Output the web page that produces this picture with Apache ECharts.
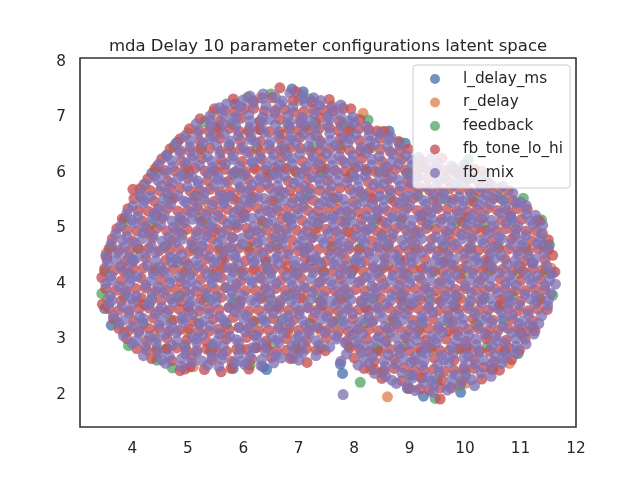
<!DOCTYPE html>
<html>
<head>
<meta charset="utf-8">
<title>mda Delay latent space</title>
<script src="https://cdn.jsdelivr.net/npm/echarts@6/dist/echarts.min.js"></script>
<style>
    html, body { margin: 0; padding: 0; background: #ffffff; }
    #chart { width: 640px; height: 480px; }
</style>
</head>
<body>
<div id="chart"></div>
<script>
const titleText = 'mda Delay 10 parameter configurations latent space';
const seriesNames = ['l_delay_ms', 'r_delay', 'feedback', 'fb_tone_lo_hi', 'fb_mix'];
const xTicks = [4, 5, 6, 7, 8, 9, 10, 11, 12];
const yTicks = [2, 3, 4, 5, 6, 7, 8];
const xRange = [3.056, 12];
const yRange = [1.415, 8.067];

const lDelayMs = [
    [4.81,6.55],[4.62,6.32],[4.35,5.99],[3.87,5.18],[5.85,7.24],[6.88,7.51],[7.08,7.46],[8.63,6.75],
    [8.92,6.53],[3.55,4.50],[5.82,2.47],[6.36,2.50],[6.42,2.45],[7.79,2.38],[7.75,2.55],[9.25,1.97],
    [9.92,2.04],[8.96,2.11],[11.41,4.69],[11.54,4.19],[11.30,5.14],[3.50,3.55],[3.62,3.25],
    [5.52,6.82],[6.31,6.78],[7.12,6.84],[7.93,6.80],
    [5.02,6.02],[5.81,5.97],[6.62,6.04],[7.41,5.99],[8.22,6.03],[9.01,5.98],[9.82,6.02],
    [4.42,5.22],[5.21,5.18],[6.02,5.24],[6.81,5.19],[7.62,5.21],[8.41,5.17],[9.22,5.23],[10.01,5.19],[10.82,5.22],
    [4.02,4.42],[4.81,4.38],[5.62,4.44],[6.41,4.39],[7.22,4.41],[8.01,4.37],[8.82,4.43],[9.61,4.39],[10.42,4.41],[11.21,4.38],
    [4.22,3.62],[5.01,3.58],[5.82,3.64],[6.61,3.59],[7.42,3.61],[8.21,3.57],[9.02,3.63],[9.81,3.59],[10.62,3.61],
    [4.62,2.82],[5.41,2.78],[6.22,2.84],[7.01,2.79],[8.42,2.81],[9.21,2.77],[10.02,2.83],[10.72,2.79]
];

// r_delay
const rDelay = [
    [5.46,7.09],[6.30,7.35],[7.00,7.30],[7.60,7.20],[8.16,7.07],
    [5.00,6.72],[5.50,6.68],[6.10,6.73],[6.70,6.69],[7.30,6.67],[7.90,6.71],[8.50,6.74],
    [4.45,6.12],[5.00,6.08],[5.60,6.13],[6.20,6.09],[6.80,6.07],[7.40,6.11],[8.00,6.14],[8.60,6.08],[9.20,6.12],[9.80,6.09],[10.30,6.03],
    [4.20,5.78],[4.70,5.52],[5.30,5.48],[5.90,5.53],[6.50,5.49],[7.10,5.47],[7.70,5.51],[8.30,5.54],[8.90,5.48],[9.50,5.52],[10.10,5.49],[10.70,5.53],
    [3.53,4.55],[4.30,4.92],[4.90,4.88],[5.50,4.93],[6.10,4.89],[6.70,4.87],[7.30,4.91],[7.90,4.94],[8.50,4.88],[9.10,4.92],[9.70,4.89],[10.30,4.93],[10.90,4.87],[11.40,4.90],
    [3.80,4.32],[4.40,4.28],[5.00,4.33],[5.60,4.29],[6.20,4.27],[6.80,4.31],[7.40,4.34],[8.00,4.28],[8.60,4.32],[9.20,4.29],[9.80,4.33],[10.40,4.27],[11.00,4.31],[11.55,4.28],
    [3.55,3.72],[4.10,3.68],[4.70,3.73],[5.30,3.69],[5.90,3.67],[6.50,3.71],[7.10,3.74],[7.70,3.68],[8.30,3.72],[8.90,3.69],[9.50,3.73],[10.10,3.67],[10.70,3.71],[11.30,3.68],
    [3.85,3.12],[4.40,3.08],[5.00,3.13],[5.60,3.09],[6.20,3.07],[6.80,3.11],[7.40,3.14],[8.00,3.08],[8.60,3.12],[9.20,3.09],[9.80,3.13],[10.40,3.07],[11.00,3.11],
    [5.10,2.50],[6.90,2.65],[8.30,2.45],[8.60,1.96],[9.20,2.30],[10.00,2.20],[10.80,2.56]
];

// feedback
const feedback = [
    [6.08,7.36],[6.50,7.42],[7.20,7.33],
    [5.30,6.92],[5.80,6.88],[6.30,6.93],[6.80,6.87],[7.30,6.91],[7.80,6.89],[8.25,6.95],
    [4.75,6.47],[5.25,6.43],[5.75,6.48],[6.25,6.44],[6.75,6.42],[7.25,6.46],[7.75,6.49],[8.25,6.43],[8.83,6.55],
    [4.45,6.02],[4.95,5.98],[5.45,6.03],[5.95,5.99],[6.45,5.97],[6.95,6.01],[7.45,6.04],[7.95,5.98],[8.45,6.02],[8.95,5.99],[9.45,6.03],[9.95,5.97],[10.06,6.23],
    [4.15,5.57],[4.65,5.53],[5.15,5.58],[5.65,5.54],[6.15,5.52],[6.65,5.56],[7.15,5.59],[7.65,5.53],[8.15,5.57],[8.65,5.54],[9.15,5.58],[9.65,5.52],[10.15,5.56],[10.65,5.53],[11.05,5.54],
    [3.85,5.12],[4.35,5.08],[4.85,5.13],[5.35,5.09],[5.85,5.07],[6.35,5.11],[6.85,5.14],[7.35,5.08],[7.85,5.12],[8.35,5.09],[8.85,5.13],[9.35,5.07],[9.85,5.11],[10.35,5.08],[10.85,5.13],[11.38,5.15],
    [3.62,4.67],[4.10,4.63],[4.60,4.68],[5.10,4.64],[5.60,4.62],[6.10,4.66],[6.60,4.69],[7.10,4.63],[7.60,4.67],[8.10,4.64],[8.60,4.68],[9.10,4.62],[9.60,4.66],[10.10,4.63],[10.60,4.68],[11.10,4.64],[11.52,4.70],
    [3.50,4.22],[3.95,4.18],[4.45,4.23],[4.95,4.19],[5.45,4.17],[5.95,4.21],[6.45,4.24],[6.95,4.18],[7.45,4.22],[7.95,4.19],[8.45,4.23],[8.95,4.17],[9.45,4.21],[9.95,4.18],[10.45,4.23],[10.95,4.19],[11.45,4.21],
    [3.45,3.82],[3.85,3.77],[4.35,3.73],[4.85,3.78],[5.35,3.74],[5.85,3.72],[6.35,3.76],[6.85,3.79],[7.35,3.73],[7.85,3.77],[8.35,3.74],[8.85,3.78],[9.35,3.72],[9.85,3.76],[10.35,3.73],[10.85,3.78],[11.35,3.74],[11.58,3.79],
    [3.70,3.32],[4.20,3.28],[4.70,3.33],[5.20,3.29],[5.70,3.27],[6.20,3.31],[6.70,3.34],[7.20,3.28],[7.70,3.32],[8.20,3.29],[8.70,3.33],[9.20,3.27],[9.70,3.31],[10.20,3.28],[10.70,3.33],[11.23,3.21],
    [3.93,2.88],[4.45,2.83],[4.95,2.88],[5.45,2.84],[5.95,2.82],[6.45,2.86],[6.95,2.89],[7.40,2.84],[7.90,2.87],[8.40,2.83],[8.90,2.88],[9.40,2.84],[9.90,2.82],[10.40,2.86],[10.96,2.74],
    [4.44,2.62],[4.72,2.48],[6.12,2.53],[8.11,2.22],[8.50,2.40],[9.00,2.35],[9.50,2.28],[10.00,2.40],[10.50,2.45],[9.46,1.93],[9.90,2.15]
];

// fb_tone_lo_hi, one [x values, y values] pair per band of the cloud, top to bottom
const fbToneLoHi = [
    [[5.82,6.18,6.52,6.90,7.24,7.55,6.66,6.95], [7.33,7.29,7.35,7.30,7.28,7.32,7.53,7.46]],
    [[5.48,5.84,6.19,6.57,6.91,7.27,7.62,7.94], [7.15,7.10,7.16,7.12,7.09,7.14,7.11,7.15]],
    [[5.22,5.58,5.95,6.30,6.66,7.02,7.38,7.73,8.10], [6.97,6.93,6.98,6.92,6.96,6.94,6.99,6.93,6.96]],
    [[5.03,5.38,5.75,6.10,6.46,6.83,7.18,7.55,7.90,8.26,8.55], [6.79,6.75,6.80,6.76,6.74,6.79,6.77,6.81,6.75,6.78,6.74]],
    [[4.86,5.22,5.58,5.95,6.31,6.67,7.02,7.39,7.75,8.10,8.47,8.80], [6.61,6.57,6.62,6.58,6.56,6.60,6.63,6.57,6.61,6.58,6.62,6.56]],
    [[4.68,5.04,5.40,5.77,6.12,6.49,6.85,7.21,7.57,7.92,8.29,8.65,8.98], [6.43,6.39,6.44,6.40,6.38,6.42,6.45,6.39,6.43,6.40,6.44,6.38,6.42]],
    [[4.53,4.89,5.25,5.61,5.98,6.33,6.70,7.06,7.42,7.78,8.14,8.50,8.86,9.22,9.58], [6.25,6.21,6.26,6.22,6.20,6.24,6.27,6.21,6.25,6.22,6.26,6.20,6.24,6.21,6.26]],
    [[4.41,4.77,5.13,5.49,5.86,6.22,6.58,6.94,7.30,7.66,8.02,8.38,8.74,9.10,9.46,9.82,10.18], [6.07,6.03,6.08,6.04,6.02,6.06,6.09,6.03,6.07,6.04,6.08,6.02,6.06,6.03,6.08,6.04,6.06]],
    [[4.28,4.64,5.00,5.36,5.72,6.09,6.45,6.81,7.17,7.53,7.89,8.25,8.61,8.97,9.33,9.69,10.05,10.41], [5.89,5.85,5.90,5.86,5.84,5.88,5.91,5.85,5.89,5.86,5.90,5.84,5.88,5.85,5.90,5.86,5.88,5.84]],
    [[4.14,4.50,4.86,5.22,5.58,5.94,6.30,6.66,7.02,7.38,7.74,8.10,8.46,8.82,9.18,9.54,9.90,10.26,10.62,4.01], [5.71,5.67,5.72,5.68,5.66,5.70,5.73,5.67,5.71,5.68,5.72,5.66,5.70,5.67,5.72,5.68,5.70,5.66,5.71,5.70]],
    [[4.03,4.39,4.75,5.11,5.47,5.83,6.19,6.55,6.91,7.27,7.63,7.99,8.35,8.71,9.07,9.43,9.79,10.15,10.51,10.87], [5.53,5.49,5.54,5.50,5.48,5.52,5.55,5.49,5.53,5.50,5.54,5.48,5.52,5.49,5.54,5.50,5.52,5.48,5.53,5.50]],
    [[3.92,4.28,4.64,5.00,5.36,5.72,6.08,6.44,6.80,7.16,7.52,7.88,8.24,8.60,8.96,9.32,9.68,10.04,10.40,10.76,11.12], [5.35,5.31,5.36,5.32,5.30,5.34,5.37,5.31,5.35,5.32,5.36,5.30,5.34,5.31,5.36,5.32,5.34,5.30,5.35,5.32,5.34]],
    [[3.82,4.18,4.54,4.90,5.26,5.62,5.98,6.34,6.70,7.06,7.42,7.78,8.14,8.50,8.86,9.22,9.58,9.94,10.30,10.66,11.02,11.34], [5.17,5.13,5.18,5.14,5.12,5.16,5.19,5.13,5.17,5.14,5.18,5.12,5.16,5.13,5.18,5.14,5.16,5.12,5.17,5.14,5.16,5.13]],
    [[3.72,4.08,4.44,4.80,5.16,5.52,5.88,6.24,6.60,6.96,7.32,7.68,8.04,8.40,8.76,9.12,9.48,9.84,10.20,10.56,10.92,11.28], [4.99,4.95,5.00,4.96,4.94,4.98,5.01,4.95,4.99,4.96,5.00,4.94,4.98,4.95,5.00,4.96,4.98,4.94,4.99,4.96,4.98,4.95]],
    [[3.64,4.00,4.36,4.72,5.08,5.44,5.80,6.16,6.52,6.88,7.24,7.60,7.96,8.32,8.68,9.04,9.40,9.76,10.12,10.48,10.84,11.20,11.50], [4.81,4.77,4.82,4.78,4.76,4.80,4.83,4.77,4.81,4.78,4.82,4.76,4.80,4.77,4.82,4.78,4.80,4.76,4.81,4.78,4.80,4.77,4.79]],
    [[3.58,3.94,4.30,4.66,5.02,5.38,5.74,6.10,6.46,6.82,7.18,7.54,7.90,8.26,8.62,8.98,9.34,9.70,10.06,10.42,10.78,11.14,11.50], [4.63,4.59,4.64,4.60,4.58,4.62,4.65,4.59,4.63,4.60,4.64,4.58,4.62,4.59,4.64,4.60,4.62,4.58,4.63,4.60,4.62,4.59,4.61]],
    [[3.54,3.88,4.24,4.60,4.96,5.32,5.68,6.04,6.40,6.76,7.12,7.48,7.84,8.20,8.56,8.92,9.28,9.64,10.00,10.36,10.72,11.08,11.44,11.58], [4.45,4.41,4.46,4.42,4.40,4.44,4.47,4.41,4.45,4.42,4.46,4.40,4.44,4.41,4.46,4.42,4.44,4.40,4.45,4.42,4.44,4.41,4.43,4.51]],
    [[3.50,3.84,4.20,4.56,4.92,5.28,5.64,6.00,6.36,6.72,7.08,7.44,7.80,8.16,8.52,8.88,9.24,9.60,9.96,10.32,10.68,11.04,11.40,11.62], [4.27,4.23,4.28,4.24,4.22,4.26,4.29,4.23,4.27,4.24,4.28,4.22,4.26,4.23,4.28,4.24,4.26,4.22,4.27,4.24,4.26,4.23,4.25,4.21]],
    [[3.45,3.80,4.16,4.52,4.88,5.24,5.60,5.96,6.32,6.68,7.04,7.40,7.76,8.12,8.48,8.84,9.20,9.56,9.92,10.28,10.64,11.00,11.36], [4.11,4.05,4.10,4.06,4.04,4.08,4.11,4.05,4.09,4.06,4.10,4.04,4.08,4.05,4.10,4.06,4.08,4.04,4.09,4.06,4.08,4.05,4.07]],
    [[3.52,3.88,4.24,4.60,4.96,5.32,5.68,6.04,6.40,6.76,7.12,7.48,7.84,8.20,8.56,8.92,9.28,9.64,10.00,10.36,10.72,11.08,11.44], [3.91,3.87,3.92,3.88,3.86,3.90,3.93,3.87,3.91,3.88,3.92,3.86,3.90,3.87,3.92,3.88,3.90,3.86,3.91,3.88,3.90,3.87,3.89]],
    [[3.46,3.80,4.16,4.52,4.88,5.24,5.60,5.96,6.32,6.68,7.04,7.40,7.76,8.12,8.48,8.84,9.20,9.56,9.92,10.28,10.64,11.00,11.36], [3.63,3.69,3.74,3.70,3.68,3.72,3.75,3.69,3.73,3.70,3.74,3.68,3.72,3.69,3.74,3.70,3.72,3.68,3.73,3.70,3.72,3.69,3.71]],
    [[3.58,3.94,4.30,4.66,5.02,5.38,5.74,6.10,6.46,6.82,7.18,7.54,7.90,8.26,8.62,8.98,9.34,9.70,10.06,10.42,10.78,11.14,11.48], [3.55,3.51,3.56,3.52,3.50,3.54,3.57,3.51,3.55,3.52,3.56,3.50,3.54,3.51,3.56,3.52,3.54,3.50,3.55,3.52,3.54,3.51,3.53]],
    [[3.66,4.02,4.38,4.74,5.10,5.46,5.82,6.18,6.54,6.90,7.26,7.62,7.98,8.34,8.70,9.06,9.42,9.78,10.14,10.50,10.86,11.22], [3.37,3.33,3.38,3.34,3.32,3.36,3.39,3.33,3.37,3.34,3.38,3.32,3.36,3.33,3.38,3.34,3.36,3.32,3.37,3.34,3.36,3.33]],
    [[3.76,4.12,4.48,4.84,5.20,5.56,5.92,6.28,6.64,7.00,7.36,7.72,8.08,8.44,8.80,9.16,9.52,9.88,10.24,10.60,10.96,11.26], [3.19,3.15,3.20,3.16,3.14,3.18,3.21,3.15,3.19,3.16,3.20,3.14,3.18,3.15,3.20,3.16,3.18,3.14,3.19,3.16,3.18,3.15]],
    [[3.90,4.26,4.62,4.98,5.34,5.70,6.06,6.42,6.78,7.14,7.50,7.86,8.22,8.58,8.94,9.30,9.66,10.02,10.38,10.74,11.08], [3.01,2.97,3.02,2.98,2.96,3.00,3.03,2.97,3.01,2.98,3.02,2.96,3.00,2.97,3.02,2.98,3.00,2.96,3.01,2.98,3.00]],
    [[4.08,4.44,4.80,5.16,5.52,5.88,6.24,6.60,6.96,7.32,7.92,8.28,8.64,9.00,9.36,9.72,10.08,10.44,10.80,10.98], [2.83,2.79,2.84,2.80,2.78,2.82,2.85,2.79,2.83,2.80,2.84,2.78,2.82,2.79,2.84,2.80,2.82,2.78,2.83,2.80]],
    [[4.35,4.71,5.07,5.43,5.79,6.15,6.51,6.85,7.15,8.00,8.36,8.72,9.08,9.44,9.80,10.16,10.52,10.84], [2.65,2.61,2.66,2.62,2.60,2.64,2.67,2.65,2.58,2.66,2.60,2.64,2.61,2.66,2.62,2.64,2.60,2.63]],
    [[4.86,5.04,5.60,8.18,8.54,8.90,9.26,9.62,9.98,10.34,10.62], [2.43,2.50,2.41,2.47,2.43,2.48,2.44,2.42,2.46,2.49,2.44]],
    [[8.50,8.86,9.22,9.58,9.94,10.30], [2.29,2.25,2.30,2.26,2.24,2.28]],
    [[9.00,9.36,9.75,9.55], [2.11,2.08,2.12,1.92]],
    // red points lying between the red ones above, on alternate bands
    [[5.66,6.02,6.38,6.74,7.09,7.45,7.80], [7.12,7.15,7.11,7.14,7.10,7.13,7.16]],
    [[5.20,5.57,5.92,6.28,6.65,7.00,7.37,7.72,8.08,8.41], [6.76,6.79,6.75,6.78,6.74,6.77,6.80,6.76,6.79,6.75]],
    [[4.86,5.22,5.59,5.95,6.31,6.67,7.03,7.39,7.75,8.11,8.47,8.82], [6.40,6.43,6.39,6.42,6.38,6.41,6.44,6.40,6.43,6.39,6.42,6.40]],
    [[4.59,4.95,5.31,5.67,6.04,6.40,6.76,7.12,7.48,7.84,8.20,8.56,8.92,9.28,9.64,10.00], [6.04,6.07,6.03,6.06,6.02,6.05,6.08,6.04,6.07,6.03,6.06,6.02,6.05,6.08,6.04,6.07]],
    [[4.32,4.68,5.04,5.40,5.76,6.12,6.48,6.84,7.20,7.56,7.92,8.28,8.64,9.00,9.36,9.72,10.08,10.44,10.78], [5.68,5.71,5.67,5.70,5.66,5.69,5.72,5.68,5.71,5.67,5.70,5.66,5.69,5.72,5.68,5.71,5.67,5.70,5.68]],
    [[4.10,4.46,4.82,5.18,5.54,5.90,6.26,6.62,6.98,7.34,7.70,8.06,8.42,8.78,9.14,9.50,9.86,10.22,10.58,10.94], [5.32,5.35,5.31,5.34,5.30,5.33,5.36,5.32,5.35,5.31,5.34,5.30,5.33,5.36,5.32,5.35,5.31,5.34,5.32,5.35]],
    [[3.90,4.26,4.62,4.98,5.34,5.70,6.06,6.42,6.78,7.14,7.50,7.86,8.22,8.58,8.94,9.30,9.66,10.02,10.38,10.74,11.10], [4.96,4.99,4.95,4.98,4.94,4.97,5.00,4.96,4.99,4.95,4.98,4.94,4.97,5.00,4.96,4.99,4.95,4.98,4.96,4.99,4.95]],
    [[3.76,4.12,4.48,4.84,5.20,5.56,5.92,6.28,6.64,7.00,7.36,7.72,8.08,8.44,8.80,9.16,9.52,9.88,10.24,10.60,10.96,11.32], [4.60,4.63,4.59,4.62,4.58,4.61,4.64,4.60,4.63,4.59,4.62,4.58,4.61,4.64,4.60,4.63,4.59,4.62,4.60,4.63,4.59,4.62]],
    [[3.67,4.02,4.38,4.74,5.10,5.46,5.82,6.18,6.54,6.90,7.26,7.62,7.98,8.34,8.70,9.06,9.42,9.78,10.14,10.50,10.86,11.22], [4.24,4.27,4.23,4.26,4.22,4.25,4.28,4.24,4.27,4.23,4.26,4.22,4.25,4.28,4.24,4.27,4.23,4.26,4.24,4.27,4.23,4.26]],
    [[3.70,4.06,4.42,4.78,5.14,5.50,5.86,6.22,6.58,6.94,7.30,7.66,8.02,8.38,8.74,9.10,9.46,9.82,10.18,10.54,10.90,11.26], [3.88,3.91,3.87,3.90,3.86,3.89,3.92,3.88,3.91,3.87,3.90,3.86,3.89,3.92,3.88,3.91,3.87,3.90,3.88,3.91,3.87,3.90]],
    [[3.76,4.12,4.48,4.84,5.20,5.56,5.92,6.28,6.64,7.00,7.36,7.72,8.08,8.44,8.80,9.16,9.52,9.88,10.24,10.60,10.96,11.31], [3.52,3.55,3.51,3.54,3.50,3.53,3.56,3.52,3.55,3.51,3.54,3.50,3.53,3.56,3.52,3.55,3.51,3.54,3.52,3.55,3.51,3.54]],
    [[3.94,4.30,4.66,5.02,5.38,5.74,6.10,6.46,6.82,7.18,7.54,7.90,8.26,8.62,8.98,9.34,9.70,10.06,10.42,10.78,11.12], [3.16,3.19,3.15,3.18,3.14,3.17,3.20,3.16,3.19,3.15,3.18,3.14,3.17,3.20,3.16,3.19,3.15,3.18,3.16,3.19,3.15]],
    [[4.26,4.62,4.98,5.34,5.70,6.06,6.42,6.78,7.14,7.48,8.10,8.46,8.82,9.18,9.54,9.90,10.26,10.62], [2.80,2.83,2.79,2.82,2.78,2.81,2.84,2.80,2.83,2.79,2.82,2.78,2.81,2.84,2.80,2.83,2.79,2.82]],
    [[4.95,5.30,5.78,6.10,8.36,8.72,9.08,9.44,9.80,10.16,10.48], [2.46,2.45,2.47,2.46,2.45,2.47,2.43,2.46,2.44,2.47,2.45]],
    [[9.18,9.55], [2.10,2.12]]
];

// fb_mix, drawn last so it covers most of the cloud
const fbMix = [
    [[6.12,6.36,6.58,6.84,7.06,7.27], [7.38,7.42,7.36,7.44,7.40,7.35]],
    [[5.57,5.70,5.95,6.18,6.41,6.66,6.89,7.12,7.37,7.60,7.76], [7.17,7.24,7.19,7.25,7.20,7.23,7.18,7.26,7.21,7.17,7.22]],
    [[5.40,5.62,5.88,6.10,6.35,6.57,6.81,7.06,7.28,7.53,7.75,7.98], [7.02,7.07,7.01,7.05,7.00,7.08,7.03,6.99,7.06,7.02,7.04,7.00]],
    [[5.15,5.41,5.63,5.86,6.12,6.34,6.58,6.83,7.04,7.30,7.52,7.77,8.00,8.22], [6.88,6.83,6.89,6.85,6.82,6.90,6.86,6.84,6.89,6.82,6.87,6.85,6.90,6.83]],
    [[4.95,5.18,5.44,5.66,5.91,6.14,6.38,6.63,6.86,7.08,7.33,7.56,7.80,8.03,8.27,8.46,8.66], [6.66,6.71,6.65,6.70,6.67,6.64,6.72,6.68,6.65,6.70,6.66,6.71,6.64,6.69,6.67,6.70,6.65]],
    [[4.78,5.04,5.27,5.52,5.74,5.99,6.23,6.46,6.70,6.95,7.18,7.41,7.66,7.89,8.13,8.37,8.60,8.82], [6.52,6.47,6.53,6.49,6.51,6.46,6.54,6.50,6.48,6.53,6.47,6.51,6.49,6.54,6.46,6.52,6.48,6.50]],
    [[4.62,4.86,5.10,5.35,5.58,5.82,6.07,6.30,6.55,6.78,7.02,7.26,7.50,7.73,7.98,8.21,8.45,8.70,8.93,9.16], [6.30,6.35,6.31,6.29,6.34,6.30,6.36,6.28,6.33,6.31,6.35,6.29,6.34,6.30,6.32,6.36,6.29,6.33,6.31,6.28]],
    [[4.48,4.73,4.96,5.21,5.45,5.68,5.93,6.16,6.41,6.65,6.88,7.13,7.36,7.61,7.84,8.08,8.32,8.57,8.80,9.04,9.28,9.51,9.75,9.98], [6.16,6.11,6.17,6.13,6.10,6.15,6.12,6.18,6.11,6.14,6.16,6.10,6.15,6.13,6.17,6.12,6.14,6.11,6.16,6.13,6.10,6.15,6.12,6.14]],
    [[4.40,4.60,4.89,5.08,5.36,5.55,5.84,6.03,6.32,6.56,6.75,7.04,7.24,7.53,7.71,8.00,8.20,8.49,8.68,8.96,9.15,9.44,9.64,9.92,10.12,10.37], [5.94,5.99,5.95,5.92,5.98,5.93,6.00,5.96,5.91,5.97,5.94,5.99,5.92,5.96,5.98,5.93,5.95,6.00,5.92,5.97,5.94,5.99,5.93,5.96,5.91,5.97]],
    [[4.23,4.52,4.71,4.99,5.19,5.47,5.66,5.95,6.15,6.43,6.62,6.91,7.11,7.39,7.58,7.87,8.07,8.35,8.54,8.83,9.03,9.31,9.50,9.79,9.99,10.27,10.47,10.68], [5.80,5.76,5.81,5.75,5.79,5.77,5.82,5.74,5.78,5.80,5.76,5.81,5.75,5.79,5.77,5.82,5.74,5.78,5.80,5.76,5.81,5.75,5.79,5.77,5.82,5.74,5.78,5.76]],
    [[4.14,4.33,4.63,4.82,5.11,5.30,5.58,5.77,6.07,6.26,6.55,6.74,7.03,7.21,7.50,7.70,7.99,8.17,8.46,8.66,8.95,9.13,9.42,9.61,9.90,10.10,10.38,10.57,10.86], [5.62,5.57,5.63,5.59,5.56,5.64,5.60,5.58,5.63,5.55,5.61,5.64,5.57,5.62,5.59,5.56,5.63,5.60,5.58,5.64,5.57,5.61,5.59,5.63,5.56,5.62,5.60,5.58,5.63]],
    [[4.01,4.20,4.50,4.69,4.97,5.16,5.45,5.65,5.94,6.12,6.41,6.61,6.89,7.08,7.37,7.57,7.85,8.04,8.33,8.53,8.81,9.00,9.29,9.49,9.77,9.96,10.25,10.45,10.73,10.92,11.10], [5.40,5.45,5.39,5.43,5.46,5.38,5.42,5.44,5.39,5.47,5.41,5.38,5.45,5.40,5.43,5.46,5.39,5.42,5.44,5.38,5.45,5.41,5.43,5.39,5.46,5.40,5.42,5.44,5.39,5.45,5.41]],
    [[3.90,4.10,4.39,4.58,4.86,5.05,5.34,5.54,5.83,6.02,6.30,6.50,6.79,6.98,7.26,7.46,7.75,7.94,8.22,8.42,8.71,8.90,9.18,9.38,9.67,9.86,10.14,10.34,10.63,10.82,11.10,11.27], [5.26,5.21,5.27,5.23,5.20,5.28,5.24,5.22,5.27,5.19,5.25,5.28,5.21,5.26,5.23,5.20,5.27,5.24,5.22,5.28,5.21,5.25,5.23,5.27,5.20,5.26,5.24,5.22,5.27,5.21,5.25,5.23]],
    [[3.79,4.03,4.22,4.51,4.74,4.94,5.24,5.43,5.71,5.90,6.19,6.44,6.63,6.87,7.16,7.35,7.63,7.83,8.12,8.31,8.59,8.84,9.02,9.31,9.55,9.74,10.04,10.23,10.51,10.75,10.95,11.23,11.40], [5.04,5.09,5.03,5.07,5.02,5.10,5.05,5.01,5.08,5.06,5.03,5.09,5.02,5.07,5.05,5.10,5.03,5.08,5.04,5.01,5.09,5.06,5.03,5.07,5.10,5.02,5.06,5.08,5.04,5.09,5.03,5.07,5.05]],
    [[3.70,3.90,4.19,4.38,4.66,4.85,5.15,5.34,5.62,5.81,6.11,6.30,6.58,6.78,7.07,7.25,7.54,7.74,8.03,8.21,8.50,8.70,8.98,9.17,9.47,9.66,9.94,10.13,10.43,10.62,10.90,11.10,11.38], [4.90,4.85,4.91,4.87,4.84,4.92,4.88,4.86,4.91,4.83,4.89,4.92,4.85,4.90,4.87,4.84,4.91,4.88,4.86,4.92,4.85,4.89,4.87,4.91,4.84,4.90,4.88,4.86,4.91,4.85,4.89,4.87,4.90]],
    [[3.62,3.86,4.05,4.34,4.57,4.78,5.07,5.26,5.54,5.79,5.98,6.26,6.50,6.70,6.99,7.18,7.46,7.71,7.90,8.18,8.42,8.62,8.91,9.10,9.38,9.63,9.82,10.10,10.34,10.54,10.83,11.02,11.30,11.51], [4.72,4.67,4.73,4.69,4.66,4.74,4.70,4.68,4.73,4.65,4.71,4.74,4.67,4.72,4.69,4.66,4.73,4.70,4.68,4.74,4.67,4.71,4.69,4.73,4.66,4.72,4.70,4.68,4.73,4.67,4.71,4.69,4.72,4.68]],
    [[3.52,3.74,3.93,4.23,4.42,4.70,4.89,5.19,5.38,5.66,5.85,6.15,6.34,6.62,6.81,7.11,7.30,7.58,7.77,8.07,8.26,8.54,8.73,9.03,9.22,9.50,9.69,9.99,10.18,10.46,10.65,10.95,11.14,11.42], [4.50,4.55,4.49,4.53,4.56,4.48,4.52,4.54,4.49,4.57,4.51,4.48,4.55,4.50,4.53,4.56,4.49,4.52,4.54,4.48,4.55,4.51,4.53,4.49,4.56,4.50,4.52,4.54,4.49,4.55,4.51,4.53,4.50,4.54]],
    [[3.55,3.79,3.98,4.27,4.50,4.71,5.00,5.19,5.47,5.72,5.91,6.19,6.43,6.63,6.92,7.11,7.39,7.64,7.83,8.11,8.35,8.55,8.84,9.03,9.31,9.56,9.75,10.03,10.27,10.47,10.76,10.95,11.23,11.47], [4.36,4.31,4.37,4.33,4.30,4.38,4.34,4.32,4.37,4.29,4.35,4.38,4.31,4.36,4.33,4.30,4.37,4.34,4.32,4.38,4.31,4.35,4.33,4.37,4.30,4.36,4.34,4.32,4.37,4.31,4.35,4.33,4.36,4.32]],
    [[3.62,3.90,4.09,4.38,4.58,4.86,5.05,5.34,5.54,5.82,6.01,6.30,6.50,6.78,6.97,7.26,7.46,7.74,7.93,8.22,8.42,8.70,8.89,9.18,9.38,9.66,9.85,10.14,10.34,10.62,10.81,11.10,11.30,11.57], [4.14,4.19,4.13,4.17,4.20,4.12,4.16,4.18,4.13,4.21,4.15,4.12,4.19,4.14,4.17,4.20,4.13,4.16,4.18,4.12,4.19,4.15,4.17,4.13,4.20,4.14,4.16,4.18,4.13,4.19,4.15,4.17,4.14,4.18]],
    [[3.52,3.76,3.95,4.24,4.47,4.68,4.97,5.16,5.44,5.69,5.88,6.16,6.40,6.60,6.89,7.08,7.36,7.61,7.80,8.08,8.32,8.52,8.81,9.00,9.28,9.53,9.72,10.00,10.24,10.44,10.73,10.92,11.20,11.44,11.63], [4.00,3.95,4.01,3.97,3.94,4.02,3.98,3.96,4.01,3.93,3.99,4.02,3.95,4.00,3.97,3.94,4.01,3.98,3.96,4.02,3.95,3.99,3.97,4.01,3.94,4.00,3.98,3.96,4.01,3.95,3.99,3.97,4.00,3.96,3.99]],
    [[3.60,3.88,4.07,4.36,4.56,4.84,5.03,5.32,5.52,5.80,5.99,6.28,6.48,6.76,6.95,7.24,7.44,7.72,7.91,8.20,8.40,8.68,8.87,9.16,9.36,9.64,9.83,10.12,10.32,10.60,10.79,11.08,11.28,11.55], [3.78,3.83,3.77,3.81,3.84,3.76,3.80,3.82,3.77,3.85,3.79,3.76,3.83,3.78,3.81,3.84,3.77,3.80,3.82,3.76,3.83,3.79,3.81,3.77,3.84,3.78,3.80,3.82,3.77,3.83,3.79,3.81,3.78,3.82]],
    [[3.58,3.82,4.01,4.30,4.53,4.74,5.03,5.22,5.50,5.75,5.94,6.22,6.46,6.66,6.95,7.14,7.42,7.67,7.86,8.14,8.38,8.58,8.87,9.06,9.34,9.59,9.78,10.06,10.30,10.50,10.79,10.98,11.26,11.49], [3.64,3.59,3.65,3.61,3.58,3.66,3.62,3.60,3.65,3.57,3.63,3.66,3.59,3.64,3.61,3.58,3.65,3.62,3.60,3.66,3.59,3.63,3.61,3.65,3.58,3.64,3.62,3.60,3.65,3.59,3.63,3.61,3.64,3.60]],
    [[3.66,3.94,4.13,4.42,4.62,4.90,5.09,5.38,5.58,5.86,6.05,6.34,6.54,6.82,7.01,7.30,7.50,7.78,7.97,8.26,8.46,8.74,8.93,9.22,9.42,9.70,9.89,10.18,10.38,10.66,10.85,11.14,11.38], [3.42,3.47,3.41,3.45,3.48,3.40,3.44,3.46,3.41,3.49,3.43,3.40,3.47,3.42,3.45,3.48,3.41,3.44,3.46,3.40,3.47,3.43,3.45,3.41,3.48,3.42,3.44,3.46,3.41,3.47,3.43,3.45,3.42]],
    [[3.76,4.00,4.19,4.48,4.71,4.92,5.21,5.40,5.68,5.93,6.12,6.40,6.64,6.84,7.13,7.32,7.60,7.85,8.04,8.32,8.56,8.76,9.05,9.24,9.52,9.77,9.96,10.24,10.48,10.68,10.97,11.16,11.33], [3.28,3.23,3.29,3.25,3.22,3.30,3.26,3.24,3.29,3.21,3.27,3.30,3.23,3.28,3.25,3.22,3.29,3.26,3.24,3.30,3.23,3.27,3.25,3.29,3.22,3.28,3.26,3.24,3.29,3.23,3.27,3.25,3.28]],
    [[3.84,4.12,4.31,4.60,4.80,5.08,5.27,5.56,5.76,6.04,6.23,6.52,6.72,7.00,7.19,7.48,7.68,7.96,8.15,8.44,8.64,8.92,9.11,9.40,9.60,9.88,10.07,10.36,10.56,10.84,11.03,11.24], [3.06,3.11,3.05,3.09,3.12,3.04,3.08,3.10,3.05,3.13,3.07,3.04,3.11,3.06,3.09,3.12,3.05,3.08,3.10,3.04,3.11,3.07,3.09,3.05,3.12,3.06,3.08,3.10,3.05,3.11,3.07,3.09]],
    [[4.00,4.24,4.43,4.72,4.95,5.16,5.45,5.64,5.92,6.17,6.36,6.64,6.88,7.08,7.37,7.56,7.84,8.09,8.28,8.56,8.80,9.00,9.29,9.48,9.76,10.01,10.20,10.48,10.72,10.92,11.10], [2.92,2.87,2.93,2.89,2.86,2.94,2.90,2.88,2.93,2.85,2.91,2.94,2.87,2.92,2.89,2.86,2.93,2.90,2.88,2.94,2.87,2.91,2.89,2.93,2.86,2.92,2.90,2.88,2.93,2.87,2.91]],
    [[4.20,4.48,4.67,4.96,5.16,5.44,5.63,5.92,6.12,6.40,6.59,6.88,7.07,7.31,7.86,8.14,8.33,8.62,8.82,9.10,9.29,9.58,9.78,10.06,10.25,10.54,10.74,10.93], [2.70,2.75,2.69,2.73,2.76,2.68,2.72,2.74,2.69,2.77,2.71,2.68,2.75,2.70,2.73,2.76,2.69,2.72,2.74,2.68,2.75,2.71,2.73,2.69,2.76,2.70,2.72,2.74]],
    [[4.60,4.88,5.07,5.36,5.56,5.84,6.03,6.32,6.55,8.07,8.27,8.56,8.75,9.03,9.22,9.51,9.71,9.99,10.18,10.47,10.66], [2.56,2.51,2.57,2.53,2.50,2.58,2.54,2.52,2.57,2.53,2.56,2.51,2.55,2.58,2.52,2.54,2.57,2.51,2.55,2.53,2.56]],
    [[8.37,8.57,8.86,9.05,9.33,9.53,9.82,10.01,10.29,10.47], [2.38,2.33,2.39,2.35,2.32,2.40,2.36,2.34,2.39,2.33]],
    [[8.76,8.96,9.25,9.44,9.72,9.92,10.17], [2.20,2.15,2.21,2.17,2.14,2.19,2.16]],
    [[9.10,9.42,9.68,7.80,7.76], [2.07,2.04,2.08,2.00,2.60]],
    // second pass of fb_mix points, lying between the bands above
    [[6.00,6.35,6.71,7.07,7.40], [7.31,7.34,7.29,7.33,7.30]],
    [[5.40,5.77,6.12,6.48,6.84,7.20,7.56,7.91], [6.94,6.97,6.93,6.96,6.92,6.95,6.98,6.94]],
    [[5.04,5.40,5.77,6.13,6.49,6.85,7.21,7.57,7.93,8.29,8.63], [6.58,6.61,6.57,6.60,6.56,6.59,6.62,6.58,6.61,6.57,6.60]],
    [[4.71,5.07,5.43,5.80,6.16,6.52,6.88,7.24,7.60,7.96,8.32,8.68,9.04,9.40], [6.22,6.25,6.21,6.24,6.20,6.23,6.26,6.22,6.25,6.21,6.24,6.20,6.23,6.26]],
    [[4.46,4.82,5.18,5.54,5.90,6.27,6.63,6.99,7.35,7.71,8.07,8.43,8.79,9.15,9.51,9.87,10.23], [5.86,5.89,5.85,5.88,5.84,5.87,5.90,5.86,5.89,5.85,5.88,5.84,5.87,5.90,5.86,5.89,5.85]],
    [[4.21,4.57,4.93,5.29,5.65,6.01,6.37,6.73,7.09,7.45,7.81,8.17,8.53,8.89,9.25,9.61,9.97,10.33,10.69,11.00], [5.50,5.53,5.49,5.52,5.48,5.51,5.54,5.50,5.53,5.49,5.52,5.48,5.51,5.54,5.50,5.53,5.49,5.52,5.50,5.47]],
    [[4.00,4.36,4.72,5.08,5.44,5.80,6.16,6.52,6.88,7.24,7.60,7.96,8.32,8.68,9.04,9.40,9.76,10.12,10.48,10.84,11.18], [5.14,5.17,5.13,5.16,5.12,5.15,5.18,5.14,5.17,5.13,5.16,5.12,5.15,5.18,5.14,5.17,5.13,5.16,5.14,5.17,5.13]],
    [[3.82,4.18,4.54,4.90,5.26,5.62,5.98,6.34,6.70,7.06,7.42,7.78,8.14,8.50,8.86,9.22,9.58,9.94,10.30,10.66,11.02,11.36], [4.78,4.81,4.77,4.80,4.76,4.79,4.82,4.78,4.81,4.77,4.80,4.76,4.79,4.82,4.78,4.81,4.77,4.80,4.78,4.81,4.77,4.80]],
    [[3.71,4.06,4.42,4.78,5.14,5.50,5.86,6.22,6.58,6.94,7.30,7.66,8.02,8.38,8.74,9.10,9.46,9.82,10.18,10.54,10.90,11.26], [4.42,4.45,4.41,4.44,4.40,4.43,4.46,4.42,4.45,4.41,4.44,4.40,4.43,4.46,4.42,4.45,4.41,4.44,4.42,4.45,4.41,4.44]],
    [[3.62,3.98,4.34,4.70,5.06,5.42,5.78,6.14,6.50,6.86,7.22,7.58,7.94,8.30,8.66,9.02,9.38,9.74,10.10,10.46,10.82,11.18,11.52], [4.06,4.09,4.05,4.08,4.04,4.07,4.10,4.06,4.09,4.05,4.08,4.04,4.07,4.10,4.06,4.09,4.05,4.08,4.06,4.09,4.05,4.08,4.06]],
    [[3.63,3.98,4.34,4.70,5.06,5.42,5.78,6.14,6.50,6.86,7.22,7.58,7.94,8.30,8.66,9.02,9.38,9.74,10.10,10.46,10.82,11.18,11.50], [3.70,3.73,3.69,3.72,3.68,3.71,3.74,3.70,3.73,3.69,3.72,3.68,3.71,3.74,3.70,3.73,3.69,3.72,3.70,3.73,3.69,3.72,3.70]],
    [[3.84,4.20,4.56,4.92,5.28,5.64,6.00,6.36,6.72,7.08,7.44,7.80,8.16,8.52,8.88,9.24,9.60,9.96,10.32,10.68,11.04], [3.34,3.37,3.33,3.36,3.32,3.35,3.38,3.34,3.37,3.33,3.36,3.32,3.35,3.38,3.34,3.37,3.33,3.36,3.34,3.37,3.33]],
    [[4.08,4.44,4.80,5.16,5.52,5.88,6.24,6.60,6.96,7.32,7.68,8.04,8.40,8.76,9.12,9.48,9.84,10.20,10.56,10.92], [2.98,3.01,2.97,3.00,2.96,2.99,3.02,2.98,3.01,2.97,3.00,2.96,2.99,3.02,2.98,3.01,2.97,3.00,2.98,3.01]],
    [[4.53,4.89,5.25,5.61,5.97,6.33,6.69,7.00,8.18,8.54,8.90,9.26,9.62,9.98,10.34,10.68], [2.62,2.65,2.61,2.64,2.60,2.63,2.66,2.62,2.65,2.61,2.64,2.60,2.63,2.66,2.62,2.65]],
    [[8.68,9.04,9.40,9.76,10.12], [2.26,2.29,2.25,2.28,2.27]]
];

const rowsToPoints = function (rows) {
    let points = [];
    rows.forEach(row => {
        const n = Math.min(row[0].length, row[1].length);
        for (let i = 0; i < n; i++) {
            points.push([row[0][i], row[1][i]]);
        }
    });
    return points;
};

const colors = ['#4c72b0', '#dd8452', '#55a868', '#c44e52', '#8172b3'];
const seriesData = [lDelayMs, rDelay, feedback, rowsToPoints(fbToneLoHi), rowsToPoints(fbMix)];
const font = 'DejaVu Sans';

const chart = echarts.init(document.getElementById('chart'), null, { renderer: 'canvas' });

chart.setOption({
    animation: false,
    color: colors,
    title: {
        text: titleText,
        left: 323,
        top: 33,
        textAlign: 'center',
        textStyle: {
            fontFamily: font,
            fontSize: 16.5,
            fontWeight: 'normal',
            color: '#262626'
        }
    },
    legend: {
        orient: 'vertical',
        left: 413,
        top: 65,
        padding: [5, 7, 6, 17],
        itemWidth: 10,
        itemHeight: 10,
        itemGap: 5.5,
        icon: 'circle',
        backgroundColor: 'rgba(255,255,255,0.8)',
        borderColor: '#cccccc',
        borderWidth: 1,
        borderRadius: 3,
        selectedMode: false,
        textStyle: {
            fontFamily: font,
            fontSize: 15.3,
            color: '#262626',
            lineHeight: 18,
            padding: [0, 0, 0, 18]
        },
        data: seriesNames
    },
    grid: {
        left: 80,
        top: 58,
        width: 496,
        height: 369,
        show: true,
        borderColor: '#333333',
        borderWidth: 1.6,
        backgroundColor: '#ffffff',
        containLabel: false,
        outerBoundsMode: 'none'
    },
    xAxis: {
        type: 'value',
        min: xRange[0],
        max: xRange[1],
        axisLine: { show: false },
        axisTick: { show: false },
        splitLine: { show: false },
        axisLabel: {
            customValues: xTicks,
            margin: 15,
            fontFamily: font,
            fontSize: 15.3,
            color: '#262626'
        }
    },
    yAxis: {
        type: 'value',
        min: yRange[0],
        max: yRange[1],
        axisLine: { show: false },
        axisTick: { show: false },
        splitLine: { show: false },
        axisLabel: {
            customValues: yTicks,
            margin: 14,
            fontFamily: font,
            fontSize: 15.3,
            color: '#262626'
        }
    },
    series: seriesNames.map((name, i) => ({
        name: name,
        type: 'scatter',
        symbol: 'circle',
        symbolSize: 11,
        silent: true,
        itemStyle: {
            color: colors[i],
            opacity: 0.78
        },
        data: seriesData[i]
    }))
});
</script>
</body>
</html>
